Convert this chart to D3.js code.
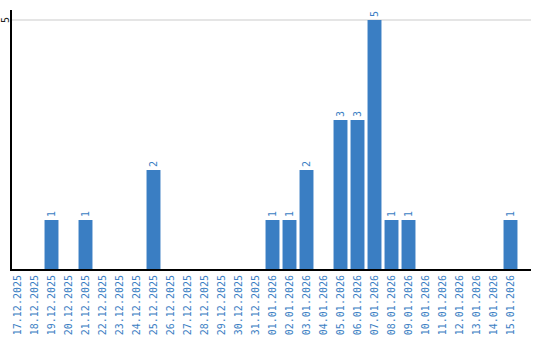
<!DOCTYPE html>
<html>
<head>
<meta charset="utf-8">
<script src="https://cdn.jsdelivr.net/npm/d3@7"></script>
<style>
html,body{margin:0;padding:0;background:#fff;}
svg{display:block;}
</style>
</head>
<body>
<svg id="chart" width="540" height="340"></svg>
<script>
const categories = ["17.12.2025","18.12.2025","19.12.2025","20.12.2025","21.12.2025","22.12.2025","23.12.2025","24.12.2025","25.12.2025","26.12.2025","27.12.2025","28.12.2025","29.12.2025","30.12.2025","31.12.2025","01.01.2026","02.01.2026","03.01.2026","04.01.2026","05.01.2026","06.01.2026","07.01.2026","08.01.2026","09.01.2026","10.01.2026","11.01.2026","12.01.2026","13.01.2026","14.01.2026","15.01.2026"];
const values = [0,0,1,0,1,0,0,0,2,0,0,0,0,0,0,1,1,2,0,3,3,5,1,1,0,0,0,0,0,1];
const yTicks = [5];

const svg = d3.select("#chart");
const barColor = "#3a7ec3";
const font = "'DejaVu Sans Mono', monospace";

const x = d3.scaleBand().domain(categories).range([9, 519]).paddingInner(0.18).paddingOuter(0.09);
const y = d3.scaleLinear().domain([0, 5]).range([270, 20]);

// gridlines
svg.append("g").selectAll("line").data(yTicks).join("line")
  .attr("x1", 11).attr("x2", 531)
  .attr("y1", d => y(d)).attr("y2", d => y(d))
  .attr("stroke", "#cccccc").attr("stroke-width", 1.2);

// y tick labels
svg.append("g").selectAll("text").data(yTicks).join("text")
  .attr("transform", d => `translate(5,${y(d)}) rotate(-90)`)
  .attr("text-anchor", "middle")
  .attr("dy", "0.35em")
  .attr("font-family", font).attr("font-size", 10)
  .attr("fill", "#222")
  .text(d => d);

// bars
const data = categories.map((c, i) => ({c, v: values[i]}));
svg.append("g").selectAll("rect").data(data.filter(d => d.v > 0)).join("rect")
  .attr("x", d => x(d.c))
  .attr("width", x.bandwidth())
  .attr("y", d => y(d.v))
  .attr("height", d => y(0) - y(d.v))
  .attr("fill", barColor);

// value labels
svg.append("g").selectAll("text").data(data.filter(d => d.v > 0)).join("text")
  .attr("transform", d => `translate(${x(d.c) + x.bandwidth()/2},${y(d.v) - 3}) rotate(-90)`)
  .attr("text-anchor", "start")
  .attr("dy", "0.35em")
  .attr("font-family", font).attr("font-size", 10)
  .attr("fill", barColor)
  .text(d => d.v);

// axes lines
svg.append("line").attr("x1", 11).attr("x2", 11).attr("y1", 10).attr("y2", 271)
  .attr("stroke", "#000").attr("stroke-width", 2);
svg.append("line").attr("x1", 10).attr("x2", 531).attr("y1", 270).attr("y2", 270)
  .attr("stroke", "#000").attr("stroke-width", 2);

// category labels
svg.append("g").selectAll("text").data(categories).join("text")
  .attr("transform", d => `translate(${x(d) + x.bandwidth()/2},275) rotate(-90)`)
  .attr("text-anchor", "end")
  .attr("dy", "0.35em")
  .attr("font-family", font).attr("font-size", 10)
  .attr("fill", barColor)
  .text(d => d);
</script>
</body>
</html>
